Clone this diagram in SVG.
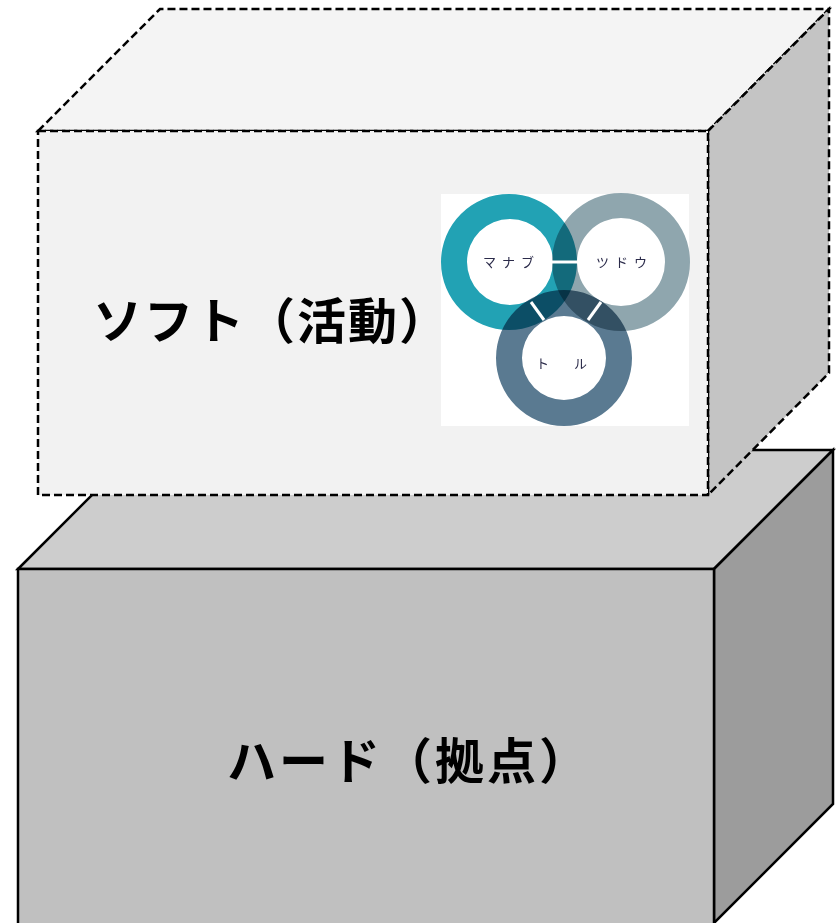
<svg xmlns="http://www.w3.org/2000/svg" width="838" height="923" viewBox="0 0 838 923">
<style>
.solid{stroke:#000;stroke-width:2.5;stroke-linejoin:miter}
.dash{stroke:#000;stroke-width:2.5;stroke-dasharray:8,4;stroke-linejoin:miter}
.big{font-family:"Noto Sans CJK JP","Noto Sans",sans-serif;font-weight:bold;font-size:49px;fill:#000}
.small{font-family:"Noto Sans CJK JP","Noto Sans",sans-serif;font-size:13px;fill:#2b2b4a}
.ring{mix-blend-mode:multiply;fill-rule:evenodd}
.sep{stroke:#fff;stroke-width:3}
</style>
<rect width="838" height="923" fill="#fff"/>
<g id="hard">
  <polygon class="solid" points="18,569 137,450 833,450 714,569" fill="#cdcdcd"/>
  <polygon class="solid" points="714,569 833,450 833,804 714,923" fill="#9c9c9c"/>
  <rect class="solid" x="18" y="569" width="696" height="360" fill="#c0c0c0"/>
  <text class="big" x="227" y="779" letter-spacing="3">ハード（拠点）</text>
</g>
<g id="soft">
  <polygon class="dash" points="38,131 160,9 829,9 708,131" fill="#f4f4f4"/>
  <polygon class="dash" points="708,131 829,9 829,373 708,495" fill="#c4c4c4"/>
  <rect class="dash" x="38" y="131" width="670" height="364" fill="#f2f2f2"/>
  <text class="big" x="93" y="339" letter-spacing="2">ソフト（活動）</text>
</g>
<g id="rings">
  <rect x="441" y="194" width="248" height="232" fill="#fff"/>
  <g style="isolation:isolate">
    <path class="ring" fill="#22a2b4" d="M441,262a68,68 0 1,0 136,0a68,68 0 1,0 -136,0Z M467,262a43,43 0 1,0 86,0a43,43 0 1,0 -86,0Z"/>
    <path class="ring" fill="#8fa6ae" d="M552,262a69,69 0 1,0 138,0a69,69 0 1,0 -138,0Z M577,262a44,44 0 1,0 88,0a44,44 0 1,0 -88,0Z"/>
    <path class="ring" fill="#5a7a91" d="M496,358a68,68 0 1,0 136,0a68,68 0 1,0 -136,0Z M522,358a42,42 0 1,0 84,0a42,42 0 1,0 -84,0Z"/>
  </g>
  <line class="sep" x1="552" y1="262" x2="578" y2="262"/>
  <line class="sep" x1="531" y1="302" x2="544" y2="320"/>
  <line class="sep" x1="601" y1="302" x2="588" y2="320"/>
  <text class="small" x="483" y="267" letter-spacing="6">マナブ</text>
  <text class="small" x="596" y="267" letter-spacing="6">ツドウ</text>
  <text class="small" x="536" y="368">ト</text>
  <text class="small" x="574" y="368">ル</text>
</g>
</svg>
